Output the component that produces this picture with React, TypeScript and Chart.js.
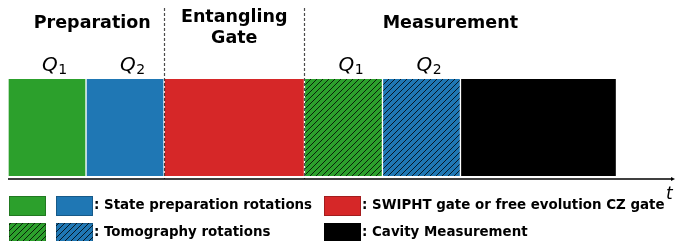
import React, { useEffect, useRef } from 'react';
import { Chart, registerables } from 'chart.js';

Chart.register(...registerables);

// ---- data ----
const segmentNames = ['Q1 preparation', 'Q2 preparation', 'Entangling gate', 'Q1 tomography', 'Q2 tomography', 'Cavity measurement'];
const segmentStarts = [0, 1, 2, 3.8, 4.8, 5.8];
const segmentEnds = [1, 2, 3.8, 4.8, 5.8, 7.8];
const segmentColors = ['#2ca02c', '#1f77b4', '#d62728', '#2ca02c', '#1f77b4', '#000000'];
const segmentHatched = [false, false, false, true, true, false];
const segmentQubit = ['1', '2', '', '1', '2', ''];
const phaseTitles = [['Preparation'], ['Entangling', 'Gate'], ['Measurement']];
const phaseCenters = [1.08, 2.9, 5.67];
const phaseDividers = [2, 3.8];
const timeMax = 8.55;
const axisLabel = 't';
const legendTexts = [
  ': State preparation rotations',
  ': Tomography rotations',
  ': SWIPHT gate or free evolution CZ gate',
  ': Cavity Measurement',
];
const legendSwatches = [[0, 1], [3, 4], [2], [5]];

const FONT = '"DejaVu Sans", sans-serif';

function makeHatch(color: string): CanvasPattern | string {
  const s = 6;
  const c = document.createElement('canvas');
  c.width = s * 2;
  c.height = s * 2;
  const g = c.getContext('2d');
  if (!g) return color;
  g.fillStyle = color;
  g.fillRect(0, 0, s * 2, s * 2);
  g.strokeStyle = '#000';
  g.lineWidth = 0.8;
  for (let k = -2 * s; k <= 2 * s; k += s) {
    g.beginPath();
    g.moveTo(k, 2 * s);
    g.lineTo(k + 2 * s, 0);
    g.stroke();
  }
  const p = g.createPattern(c, 'repeat');
  return p || color;
}

export default function App() {
  const ref = useRef<HTMLCanvasElement | null>(null);

  useEffect(() => {
    const canvas = ref.current;
    if (!canvas) return;
    const fills = segmentColors.map((c, i) => (segmentHatched[i] ? makeHatch(c) : c));

    const overlay = {
      id: 'overlay',
      afterDatasetsDraw(chart: any) {
        const ctx = chart.ctx as CanvasRenderingContext2D;
        const xs = chart.scales.x;
        const area = chart.chartArea;
        ctx.save();
        // dashed dividers
        ctx.strokeStyle = 'rgba(0,0,0,0.7)';
        ctx.lineWidth = 1.2;
        ctx.setLineDash([3, 2]);
        phaseDividers.forEach((d) => {
          const x = Math.round(xs.getPixelForValue(d)) + 0.5;
          ctx.beginPath();
          ctx.moveTo(x, 8);
          ctx.lineTo(x, 179);
          ctx.stroke();
        });
        ctx.setLineDash([]);

        // time axis
        const x0 = area.left;
        const x1 = area.right;
        ctx.strokeStyle = '#000';
        ctx.lineWidth = 1.5;
        ctx.beginPath();
        ctx.moveTo(x0, 179);
        ctx.lineTo(x1 - 2, 179);
        ctx.stroke();
        ctx.fillStyle = '#000';
        ctx.beginPath();
        ctx.moveTo(x1, 179);
        ctx.lineTo(x1 - 4, 177);
        ctx.lineTo(x1 - 4, 181);
        ctx.closePath();
        ctx.fill();
        ctx.font = `italic 17px ${FONT}`;
        ctx.textAlign = 'left';
        ctx.textBaseline = 'alphabetic';
        ctx.fillText(axisLabel, 666, 199);

        // phase titles
        ctx.font = `bold 17.5px ${FONT}`;
        ctx.textAlign = 'center';
        phaseTitles.forEach((lines, i) => {
          const cx = xs.getPixelForValue(phaseCenters[i]);
          const baseY = lines.length > 1 ? 22 : 28;
          lines.forEach((ln, j) => {
            ctx.fillText(ln, cx, baseY + j * 20.5);
          });
        });

        // qubit labels
        segmentQubit.forEach((q, i) => {
          if (!q) return;
          const cx = (xs.getPixelForValue(segmentStarts[i]) + xs.getPixelForValue(segmentEnds[i])) / 2;
          const left = cx - 5;
          ctx.textAlign = 'left';
          ctx.font = `italic 20px ${FONT}`;
          ctx.fillText('Q', left, 71);
          const w = ctx.measureText('Q').width;
          ctx.font = `14px ${FONT}`;
          ctx.fillText(q, left + w + 0.5, 74);
        });

        // legend
        const drawSwatch = (idx: number, x: number, y: number) => {
          ctx.fillStyle = fills[idx] as any;
          ctx.fillRect(x, y, 37, 20);
          ctx.strokeStyle = 'rgba(0,0,0,0.3)';
          ctx.lineWidth = 0.8;
          ctx.strokeRect(x + 0.5, y + 0.5, 36, 19);
        };
        const positions = [
          { x: 9, y: 196 },
          { x: 9, y: 223 },
          { x: 324, y: 196 },
          { x: 324, y: 223 },
        ];
        legendTexts.forEach((t, i) => {
          const p = positions[i];
          let x = p.x;
          legendSwatches[i].forEach((s, k) => {
            drawSwatch(s, x, p.y);
            x += 37;
            if (k < legendSwatches[i].length - 1) x += 10;
          });
          ctx.fillStyle = '#000';
          ctx.font = `bold 13.4px ${FONT}`;
          ctx.textAlign = 'left';
          ctx.fillText(t, x + 1, p.y + 13);
        });
        ctx.restore();
      },
    };

    const chart = new Chart(canvas, {
      type: 'bar',
      data: {
        labels: ['timeline'],
        datasets: segmentNames.map((name, i) => ({
          label: name,
          data: [[segmentStarts[i], segmentEnds[i]]] as any,
          backgroundColor: fills[i] as any,
          borderColor: '#ffffff',
          borderWidth: { left: 1, right: 1, top: 0, bottom: 0 } as any,
          borderSkipped: false as any,
          barPercentage: 1,
          categoryPercentage: 1,
          grouped: false,
        })),
      },
      options: {
        indexAxis: 'y',
        animation: false,
        responsive: false,
        maintainAspectRatio: false,
        events: [],
        layout: { padding: { left: 8, right: 1, top: 79, bottom: 65 } },
        plugins: {
          legend: { display: false },
          tooltip: { enabled: false },
          title: { display: false },
        },
        scales: {
          x: { type: 'linear', min: 0, max: timeMax, display: false },
          y: { type: 'category', display: false },
        },
      },
      plugins: [overlay],
    });
    return () => chart.destroy();
  }, []);

  return (
    <div style={{ position: 'absolute', left: 0, top: 0, width: 676, height: 241 }}>
      <canvas ref={ref} width={676} height={241} style={{ display: 'block', width: 676, height: 241 }} />
    </div>
  );
}
